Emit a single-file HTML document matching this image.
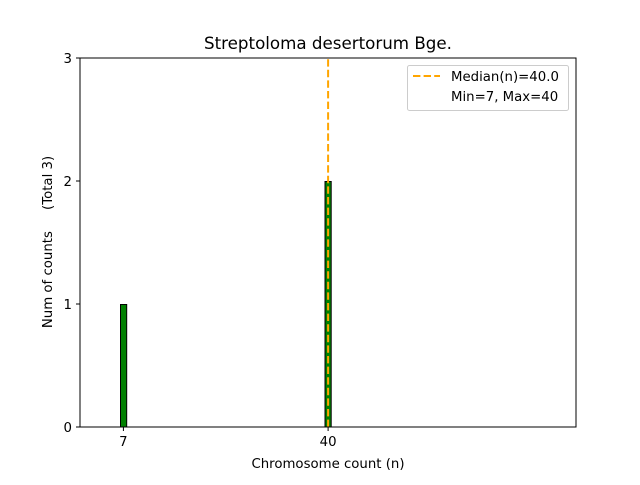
<!DOCTYPE html>
<html><head><meta charset="utf-8"><style>html,body{margin:0;padding:0;background:#fff}</style></head>
<body>
<svg width="640" height="480" xmlns="http://www.w3.org/2000/svg" font-family="'DejaVu Sans','Liberation Sans',sans-serif">
<rect width="640" height="480" fill="#fff"/>
<line x1="120" y1="427" x2="350" y2="427" stroke="#bbb" stroke-width="1"/>
<rect x="120.5" y="304.5" width="6.2" height="122.5" fill="#008000" stroke="#000" stroke-width="1"/>
<rect x="325" y="181.5" width="6.2" height="245.5" fill="#008000" stroke="#000" stroke-width="1"/>
<line x1="328.1" y1="427" x2="328.1" y2="58" stroke="#FFA500" stroke-width="2" stroke-dasharray="7.4,3.2"/>
<rect x="80" y="58" width="496" height="369" fill="none" stroke="#000" stroke-width="1"/>
<g stroke="#000" stroke-width="1">
<line x1="80" y1="427" x2="76" y2="427"/><line x1="80" y1="304" x2="76" y2="304"/>
<line x1="80" y1="181" x2="76" y2="181"/><line x1="80" y1="58" x2="76" y2="58"/>
<line x1="123.4" y1="427" x2="123.4" y2="431"/><line x1="328.1" y1="427" x2="328.1" y2="431"/>
</g>
<g font-size="13.3" fill="#000">
<text x="72" y="432" text-anchor="end">0</text>
<text x="72" y="309" text-anchor="end">1</text>
<text x="72" y="186" text-anchor="end">2</text>
<text x="72" y="63" text-anchor="end">3</text>
<text x="123.4" y="446" text-anchor="middle">7</text>
<text x="328.1" y="446" text-anchor="middle">40</text>
<text x="328" y="468" text-anchor="middle">Chromosome count (n)</text>
<text transform="translate(52,242) rotate(-90)" text-anchor="middle" xml:space="preserve">Num of counts     (Total 3)</text>
</g>
<text x="328" y="49" font-size="16.7" text-anchor="middle">Streptoloma desertorum Bge.</text>
<rect x="407.5" y="65.5" width="161" height="45" rx="2" fill="#fff" stroke="#ccc" stroke-width="1"/>
<line x1="413" y1="76" x2="440" y2="76" stroke="#FFA500" stroke-width="2" stroke-dasharray="7.4,3.2"/>
<g font-size="13.3" fill="#000">
<text x="451" y="81">Median(n)=40.0</text>
<text x="451" y="101">Min=7, Max=40</text>
</g>
</svg>
</body></html>
